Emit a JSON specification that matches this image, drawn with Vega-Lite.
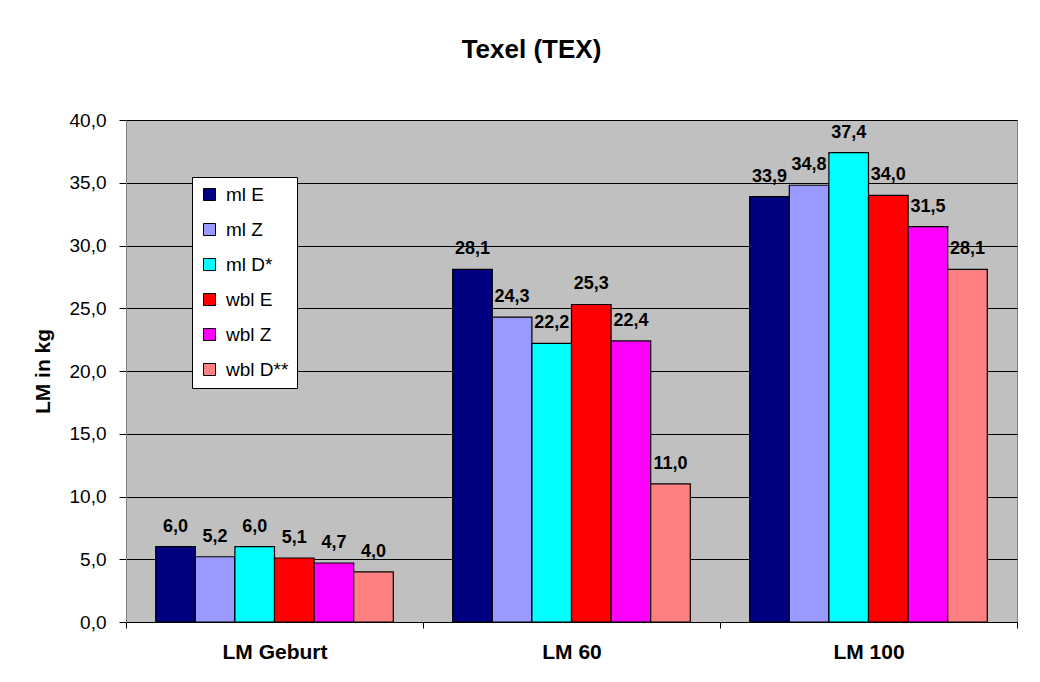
{
  "$schema": "https://vega.github.io/schema/vega-lite/v6.json",
  "autosize": {"type": "none"},
  "padding": {"left": 126, "top": 120, "right": 23, "bottom": 60},
  "width": 891,
  "height": 502,
  "config": {
    "locale": {"number": {"decimal": ",", "thousands": ".", "grouping": [3], "currency": ["", " €"]}},
    "font": "Liberation Sans",
    "view": {"fill": "#C0C0C0", "stroke": "#808080", "strokeWidth": 1}
  },
  "title": {"text": "Texel (TEX)", "fontSize": 26, "fontWeight": "bold", "anchor": "middle", "dx": -40, "offset": 48, "color": "#000"},
  "data": {"values": [
    {"stage": "LM Geburt", "series": "ml E", "value": 6.0},
    {"stage": "LM Geburt", "series": "ml Z", "value": 5.2},
    {"stage": "LM Geburt", "series": "ml D*", "value": 6.0},
    {"stage": "LM Geburt", "series": "wbl E", "value": 5.1},
    {"stage": "LM Geburt", "series": "wbl Z", "value": 4.7},
    {"stage": "LM Geburt", "series": "wbl D**", "value": 4.0},
    {"stage": "LM 60", "series": "ml E", "value": 28.1},
    {"stage": "LM 60", "series": "ml Z", "value": 24.3},
    {"stage": "LM 60", "series": "ml D*", "value": 22.2},
    {"stage": "LM 60", "series": "wbl E", "value": 25.3},
    {"stage": "LM 60", "series": "wbl Z", "value": 22.4},
    {"stage": "LM 60", "series": "wbl D**", "value": 11.0},
    {"stage": "LM 100", "series": "ml E", "value": 33.9},
    {"stage": "LM 100", "series": "ml Z", "value": 34.8},
    {"stage": "LM 100", "series": "ml D*", "value": 37.4},
    {"stage": "LM 100", "series": "wbl E", "value": 34.0},
    {"stage": "LM 100", "series": "wbl Z", "value": 31.5},
    {"stage": "LM 100", "series": "wbl D**", "value": 28.1}
  ]},
  "encoding": {
    "x": {
      "field": "stage", "type": "nominal", "sort": ["LM Geburt", "LM 60", "LM 100"],
      "scale": {"paddingInner": 0, "paddingOuter": 0},
      "axis": {"title": null, "labelAngle": 0, "labelFontSize": 21, "labelFontWeight": "bold", "labelColor": "#000",
               "labelPadding": 13, "tickBand": "extent", "tickSize": 6, "domainColor": "#000", "tickColor": "#000"}
    },
    "xOffset": {"field": "series", "type": "nominal", "sort": ["ml E", "ml Z", "ml D*", "wbl E", "wbl Z", "wbl D**"],
                "scale": {"paddingInner": 0, "paddingOuter": 0.75}},
    "y": {
      "field": "value", "type": "quantitative",
      "scale": {"domain": [0, 40], "nice": false},
      "axis": {"title": "LM in kg", "titleFontSize": 21, "titleFontWeight": "bold", "titleColor": "#000", "titlePadding": 16,
               "values": [0, 5, 10, 15, 20, 25, 30, 35, 40], "format": ".1f", "labelFontSize": 19, "labelColor": "#000",
               "labelPadding": 13, "tickSize": 7, "tickColor": "#000", "domainColor": "#808080",
               "grid": true, "gridColor": "#000", "gridOpacity": 1, "gridWidth": 1}
    }
  },
  "layer": [
    {
      "mark": {"type": "bar", "stroke": "#000", "strokeWidth": 1.2},
      "encoding": {
        "color": {
          "field": "series", "type": "nominal",
          "scale": {"domain": ["ml E", "ml Z", "ml D*", "wbl E", "wbl Z", "wbl D**"],
                    "range": ["#000080", "#9999FF", "#00FFFF", "#FF0000", "#FF00FF", "#FF8080"]},
          "legend": {"title": null, "orient": "none", "legendX": 66, "legendY": 57, "fillColor": "#FFFFFF",
                     "strokeColor": "#000", "padding": 8, "labelFontSize": 19, "labelColor": "#000",
                     "symbolType": "square", "symbolSize": 144, "symbolStrokeColor": "#000", "symbolStrokeWidth": 1,
                     "symbolOpacity": 1, "rowPadding": 15, "labelOffset": 7, "cornerRadius": 0}
        }
      }
    },
    {
      "mark": {"type": "text", "dy": -15, "baseline": "alphabetic", "fontSize": 18, "fontWeight": "bold", "color": "#000"},
      "encoding": {"text": {"field": "value", "type": "quantitative", "format": ".1f"}}
    }
  ]
}
